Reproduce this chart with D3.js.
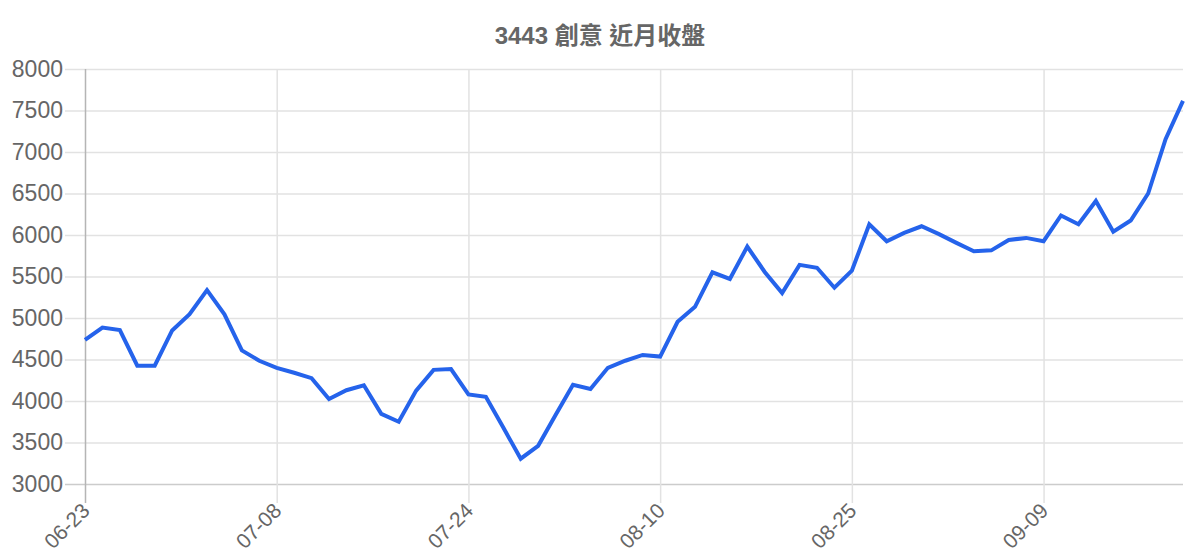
<!DOCTYPE html>
<html>
<head>
<meta charset="utf-8">
<script src="https://cdn.jsdelivr.net/npm/d3@7"></script>
<style>
  body { margin: 0; background: #fff; }
  text { font-family: "Liberation Sans", Arial, "Noto Sans CJK TC", sans-serif; }
</style>
</head>
<body>
<div id="chart"></div>
<script>
var title = "3443 創意 近月收盤";

var dates = [
  "06-23", "06-24", "06-25", "06-26", "06-27", "06-30", "07-01", "07-02", "07-03", "07-04", "07-07",
  "07-08", "07-09", "07-10", "07-11", "07-14", "07-15", "07-16", "07-17", "07-18", "07-21", "07-22",
  "07-24", "07-25", "07-28", "07-29", "07-30", "07-31", "08-01", "08-04", "08-05", "08-06", "08-07",
  "08-10", "08-11", "08-12", "08-13", "08-14", "08-15", "08-18", "08-19", "08-20", "08-21", "08-22",
  "08-25", "08-26", "08-27", "08-28", "08-29", "09-01", "09-02", "09-03", "09-04", "09-05", "09-08",
  "09-09", "09-10", "09-11", "09-12", "09-15", "09-16", "09-17", "09-18", "09-19"
];

var closes = [
  4735, 4885, 4855, 4425, 4425, 4850, 5045, 5335, 5045, 4610, 4485,
  4400, 4340, 4275, 4025, 4130, 4190, 3845, 3750, 4125, 4375, 4385,
  4080, 4050, 3680, 3305, 3460, 3830, 4195, 4145, 4400, 4485, 4555,
  4535, 4955, 5135, 5550, 5470, 5860, 5555, 5300, 5640, 5605, 5365,
  5570, 6130, 5925, 6025, 6105, 6010, 5905, 5805, 5815, 5940, 5965,
  5925, 6235, 6130, 6410, 6040, 6175, 6500, 7155, 7615
];

var yTicks = [3000, 3500, 4000, 4500, 5000, 5500, 6000, 6500, 7000, 7500, 8000];
var xTickDates = ["06-23", "07-08", "07-24", "08-10", "08-25", "09-09"];

var width = 1200, height = 560;
var margin = {top: 69, right: 17, bottom: 76, left: 85};
var w = width - margin.left - margin.right;
var h = height - margin.top - margin.bottom;

var svg = d3.select("#chart")
  .append("svg")
    .attr("width", width)
    .attr("height", height);

svg.append("text")
  .text(title)
  .attr("x", 600)
  .attr("y", 44)
  .attr("text-anchor", "middle")
  .style("font-size", "24px")
  .style("font-weight", "bold")
  .style("fill", "#666");

var g = svg.append("g")
  .attr("transform", "translate(" + margin.left + "," + margin.top + ")");

var x = d3.scalePoint().domain(dates).range([0, w]);
var y = d3.scaleLinear().domain([3000, 8000]).range([h, 0]);

// horizontal grid + y ticks
var yAxis = g.append("g")
  .call(d3.axisLeft(y).tickValues(yTicks).tickFormat(d3.format("d")).tickSize(20).tickPadding(2));
yAxis.select(".domain").remove();
yAxis.selectAll(".tick line")
  .attr("x2", w)
  .attr("x1", -20)
  .attr("stroke", function(d) { return d == 3000 ? "#ccc" : "#e2e2e2"; })
  .attr("stroke-width", 1.5);
yAxis.selectAll(".tick text")
  .attr("x", -22)
  .style("font-size", "23px")
  .style("font-family", "'Liberation Sans', Arial, sans-serif")
  .style("fill", "#666");

// vertical grid + x ticks
var xAxis = g.append("g")
  .attr("transform", "translate(0," + h + ")")
  .call(d3.axisBottom(x).tickValues(xTickDates).tickSize(19).tickPadding(0));
xAxis.select(".domain").remove();
xAxis.selectAll(".tick line")
  .attr("y1", -h)
  .attr("y2", 19)
  .attr("stroke", function(d) { return d == dates[0] ? "#b5b5b5" : "#e2e2e2"; })
  .attr("stroke-width", 1.5);
xAxis.selectAll(".tick text")
  .attr("y", 0)
  .attr("dy", 0)
  .attr("text-anchor", "end")
  .attr("transform", "translate(5.5,28) rotate(-45)")
  .style("font-size", "21px")
  .style("font-family", "'Liberation Sans', Arial, sans-serif")
  .style("fill", "#666");

var line = d3.line()
  .x(function(d, i) { return x(dates[i]); })
  .y(function(d) { return y(d); });

g.append("path")
  .datum(closes)
  .attr("fill", "none")
  .attr("stroke", "#2563eb")
  .attr("stroke-width", 4)
  .attr("stroke-linejoin", "miter")
  .attr("d", line);
</script>
</body>
</html>
